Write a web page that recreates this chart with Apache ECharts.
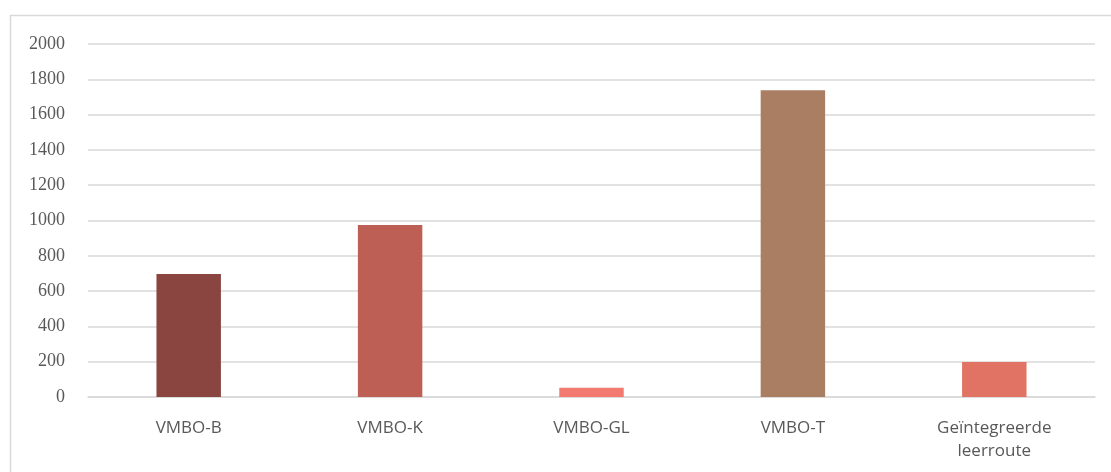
<!DOCTYPE html>
<html>
<head>
<meta charset="utf-8">
<script src="https://cdn.jsdelivr.net/npm/echarts@6/dist/echarts.min.js"></script>
<style>html,body{margin:0;padding:0;background:#fff;}#c{width:1111px;height:472px;}</style>
</head>
<body>
<div id="c"></div>
<script>
var categories = ['VMBO-B', 'VMBO-K', 'VMBO-GL', 'VMBO-T', 'Geïntegreerde\nleerroute'];
var values = [697, 975, 52, 1738, 198];
var barColors = ['#8A4540', '#BE5F56', '#F27A71', '#A97E62', '#E07364'];
var yTicks = [0, 200, 400, 600, 800, 1000, 1200, 1400, 1600, 1800, 2000];

var chart = echarts.init(document.getElementById('c'));
chart.setOption({
  animation: false,
  graphic: [{
    type: 'rect',
    shape: {x: 10.5, y: 15.5, width: 1110, height: 470},
    style: {fill: 'none', stroke: '#d9d9d9', lineWidth: 1.5},
    silent: true
  }],
  grid: {left: 88, right: 16, top: 44, bottom: 75},
  xAxis: {
    type: 'category',
    data: categories,
    axisLine: {show: true, lineStyle: {color: '#d9d9d9', width: 1.5}},
    axisTick: {show: false},
    axisLabel: {color: '#595959', fontFamily: 'Open Sans', fontSize: 17, margin: 20, lineHeight: 23, interval: 0}
  },
  yAxis: {
    type: 'value',
    min: yTicks[0],
    max: yTicks[yTicks.length - 1],
    interval: 200,
    axisLine: {show: false},
    axisTick: {show: false},
    splitLine: {lineStyle: {color: '#d9d9d9', width: 1.5}},
    axisLabel: {color: '#595959', fontFamily: 'Liberation Serif', fontSize: 18, margin: 23,
      formatter: function (v) { return String(v); }}
  },
  series: [{
    type: 'bar',
    barWidth: '32%',
    data: values.map(function (v, i) { return {value: v, itemStyle: {color: barColors[i]}}; })
  }]
});
</script>
</body>
</html>
